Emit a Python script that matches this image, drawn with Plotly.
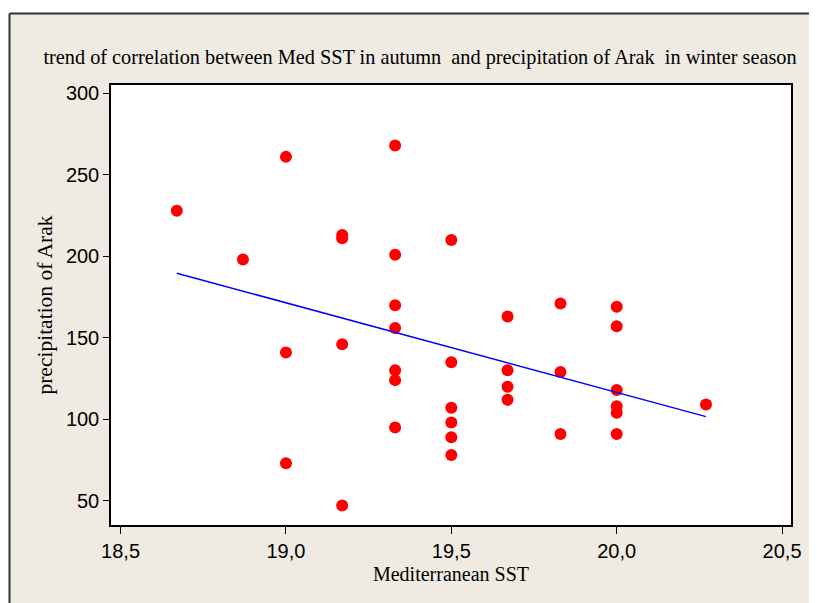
import plotly.graph_objects as go

# Data
sst = [18.67, 18.87,
       19.0, 19.0, 19.0,
       19.17, 19.17, 19.17, 19.17,
       19.33, 19.33, 19.33, 19.33, 19.33, 19.33, 19.33,
       19.5, 19.5, 19.5, 19.5, 19.5, 19.5,
       19.67, 19.67, 19.67, 19.67,
       19.83, 19.83, 19.83,
       20.0, 20.0, 20.0, 20.0, 20.0, 20.0,
       20.27]
precip = [228, 198,
          261, 141, 73,
          213, 211, 146, 47,
          268, 201, 170, 156, 130, 124, 95,
          210, 135, 107, 98, 89, 78,
          163, 130, 120, 112,
          171, 129, 91,
          169, 157, 118, 108, 104, 91,
          109]

trend_x = [18.67, 20.27]
trend_y = [189.6, 101.6]

x_ticks = [18.5, 19.0, 19.5, 20.0, 20.5]
x_ticktext = ["18,5", "19,0", "19,5", "20,0", "20,5"]
y_ticks = [50, 100, 150, 200, 250, 300]

title_text = ("trend of correlation between Med SST in autumn\u00a0 and "
              "precipitation of Arak\u00a0 in winter season")

fig = go.Figure()
fig.add_trace(go.Scatter(x=sst, y=precip, mode="markers",
                         marker=dict(color="#FF0000", size=12, line=dict(width=0)),
                         showlegend=False))
fig.add_trace(go.Scatter(x=trend_x, y=trend_y, mode="lines",
                         line=dict(color="#0000FF", width=1.5),
                         showlegend=False))

# page offset of the figure (body margin)
OFF = 8
W, H = 817, 603
# plot area in window pixels: left 111, right 791, top 85, bottom 525
L = 111 - OFF
T = 85 - OFF
R = W + OFF - 791
B = H + OFF - 525
pw, ph = W - L - R, H - T - B

def px(x):
    return (x - OFF - L) / pw

def py(y):
    return (H + OFF - B - y) / ph

shapes = [
    dict(type="rect", xref="paper", yref="paper", x0=px(-20), x1=px(W + 20),
         y0=py(13.5), y1=py(-20), fillcolor="white", line=dict(width=0), layer="above"),
    dict(type="rect", xref="paper", yref="paper", x0=px(-20), x1=px(9.5),
         y0=py(H + 20), y1=py(-20), fillcolor="white", line=dict(width=0), layer="above"),
    dict(type="line", xref="paper", yref="paper", x0=px(9.5), x1=px(W + 20),
         y0=py(13.5), y1=py(13.5), line=dict(color="#333333", width=2), layer="above"),
    dict(type="line", xref="paper", yref="paper", x0=px(9.5), x1=px(9.5),
         y0=py(13.5), y1=py(H + 20), line=dict(color="#333333", width=2), layer="above"),
]

fig.update_layout(
    width=W, height=H,
    margin=dict(l=L, r=R, t=T, b=B),
    paper_bgcolor="#EFEBE2",
    plot_bgcolor="white",
    shapes=shapes,
    title=dict(text=title_text, x=(420 - OFF) / W, xanchor="center", xref="container",
               y=1 - (57 - OFF) / H, yanchor="middle",
               font=dict(family="Liberation Serif", size=20.3, color="black")),
    xaxis=dict(range=[18.471, 20.527], tickvals=x_ticks, ticktext=x_ticktext,
               ticks="outside", ticklen=7, tickwidth=1.2, tickcolor="black",
               showline=True, linecolor="black", linewidth=1.5, mirror=True,
               showgrid=False, zeroline=False,
               tickfont=dict(family="Liberation Sans", size=20, color="black"),
               title=dict(text="Mediterranean SST", standoff=6,
                          font=dict(family="Liberation Serif", size=20, color="black"))),
    yaxis=dict(range=[35.1, 305.1], tickvals=y_ticks,
               ticks="outside", ticklen=6, tickwidth=1.2, tickcolor="black",
               showline=True, linecolor="black", linewidth=1.5, mirror=True,
               showgrid=False, zeroline=False,
               tickfont=dict(family="Liberation Sans", size=20, color="black"),
               title=dict(text="precipitation of Arak", standoff=7,
                          font=dict(family="Liberation Serif", size=21.5, color="black"))),
)

fig.write_html("out.html")
